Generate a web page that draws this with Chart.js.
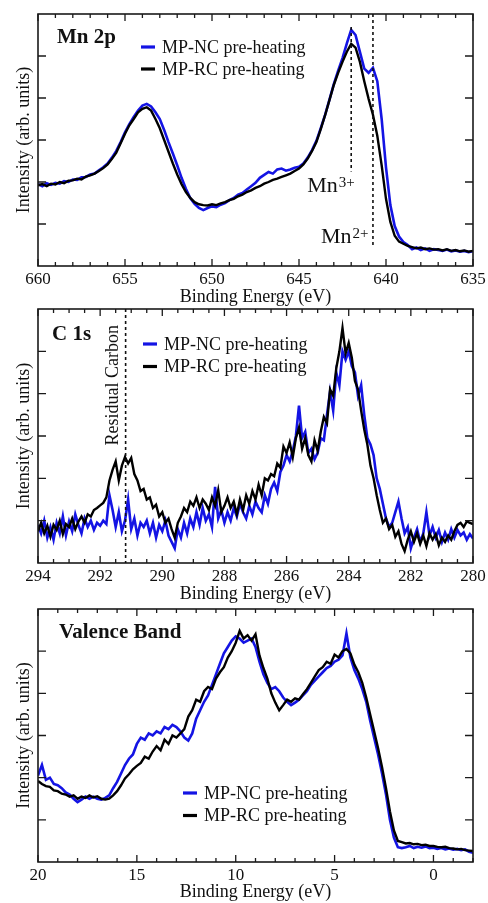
<!DOCTYPE html>
<html>
<head>
<meta charset="utf-8">
<title>XPS spectra - Mn 2p, C 1s, valence band</title>
<script src="https://cdn.jsdelivr.net/npm/chart.js"></script>
<style>
  body { margin: 0; background: #fff; }
  .panel { position: absolute; left: 0; width: 488px; }
</style>
</head>
<body>
<div class="panel" style="top:0;height:308px"><canvas id="mn"></canvas></div>
<div class="panel" style="top:308px;height:297px"><canvas id="c1s"></canvas></div>
<div class="panel" style="top:605px;height:298px"><canvas id="vb"></canvas></div>
<script>
// ---- Mn 2p ----
const mnEnergy = [660,659.75,659.5,659.25,659,658.75,658.5,658.25,658,657.75,
  657.5,657.25,657,656.75,656.5,656.25,656,655.75,655.5,655.25,
  655,654.75,654.5,654.25,654,653.75,653.5,653.25,653,652.75,
  652.5,652.25,652,651.75,651.5,651.25,651,650.75,650.5,650.25,
  650,649.75,649.5,649.25,649,648.75,648.5,648.25,648,647.75,
  647.5,647.25,647,646.75,646.5,646.25,646,645.75,645.5,645.25,
  645,644.75,644.5,644.25,644,643.75,643.5,643.25,643,642.75,
  642.5,642.25,642,641.75,641.5,641.25,641,640.75,640.5,640.25,
  640,639.75,639.5,639.25,639,638.75,638.5,638.25,638,637.75,
  637.5,637.25,637,636.75,636.5,636.25,636,635.75,635.5,635.25,
  635];
const mnNC = [1.95,1.90,1.97,1.93,1.98,1.96,2.02,2.00,2.06,2.05,
  2.11,2.12,2.18,2.20,2.28,2.35,2.44,2.58,2.74,2.95,
  3.18,3.38,3.55,3.70,3.82,3.86,3.80,3.66,3.50,3.24,
  2.95,2.68,2.40,2.10,1.84,1.62,1.48,1.38,1.33,1.38,
  1.42,1.40,1.46,1.50,1.57,1.62,1.70,1.74,1.82,1.90,
  1.98,2.10,2.17,2.24,2.20,2.30,2.32,2.27,2.30,2.34,
  2.36,2.44,2.58,2.76,2.98,3.28,3.60,3.96,4.33,4.65,
  4.95,5.30,5.62,5.50,5.10,4.70,4.60,4.72,4.40,3.50,
  2.35,1.45,0.95,0.70,0.57,0.50,0.40,0.44,0.38,0.42,
  0.36,0.40,0.38,0.36,0.39,0.35,0.37,0.34,0.36,0.33,
  0.35];
const mnRC = [1.92,1.95,1.90,1.96,1.94,2.00,1.97,2.03,2.04,2.08,
  2.06,2.13,2.16,2.20,2.26,2.33,2.42,2.55,2.70,2.92,
  3.15,3.35,3.50,3.66,3.74,3.78,3.70,3.50,3.28,3.00,
  2.72,2.44,2.18,1.95,1.76,1.62,1.52,1.47,1.45,1.44,
  1.47,1.45,1.49,1.52,1.57,1.60,1.66,1.70,1.76,1.80,
  1.86,1.90,1.96,2.00,2.05,2.08,2.12,2.16,2.20,2.26,
  2.32,2.42,2.56,2.74,2.95,3.26,3.59,3.95,4.31,4.60,
  4.86,5.10,5.29,5.20,4.86,4.40,3.98,3.60,3.10,2.40,
  1.60,1.05,0.72,0.58,0.53,0.48,0.45,0.42,0.44,0.40,
  0.42,0.39,0.40,0.37,0.40,0.36,0.38,0.35,0.37,0.34,
  0.36];
const mnTicks = [660, 655, 650, 645, 640, 635];
const mn3Energy = 642.0;
const mn2Energy = 640.75;

// ---- C 1s ----
const cEnergy = [294,293.9,293.8,293.7,293.6,293.5,293.4,293.3,293.2,293.1,
  293,292.9,292.8,292.7,292.6,292.5,292.4,292.3,292.2,292.1,
  292,291.9,291.8,291.7,291.6,291.5,291.4,291.3,291.2,291.1,
  291,290.9,290.8,290.7,290.6,290.5,290.4,290.3,290.2,290.1,
  290,289.9,289.8,289.7,289.6,289.5,289.4,289.3,289.2,289.1,
  289,288.9,288.8,288.7,288.6,288.5,288.4,288.3,288.2,288.1,
  288,287.9,287.8,287.7,287.6,287.5,287.4,287.3,287.2,287.1,
  287,286.9,286.8,286.7,286.6,286.5,286.4,286.3,286.2,286.1,
  286,285.9,285.8,285.7,285.6,285.5,285.4,285.3,285.2,285.1,
  285,284.9,284.8,284.7,284.6,284.5,284.4,284.3,284.2,284.1,
  284,283.9,283.8,283.7,283.6,283.5,283.4,283.3,283.2,283.1,
  283,282.9,282.8,282.7,282.6,282.5,282.4,282.3,282.2,282.1,
  282,281.9,281.8,281.7,281.6,281.5,281.4,281.3,281.2,281.1,
  281,280.9,280.8,280.7,280.6,280.5,280.4,280.3,280.2,280.1,
  280];
const cNC = [0.90,0.70,1.00,0.60,0.85,0.55,0.95,0.70,1.10,0.65,
  0.98,0.75,1.15,0.90,0.70,1.05,0.85,1.00,0.78,0.95,
  0.88,1.00,0.92,1.60,1.25,0.85,1.20,0.75,1.00,1.50,
  0.80,1.05,0.65,0.95,0.85,1.00,0.70,0.95,0.60,0.90,
  0.75,1.00,0.65,0.50,0.35,0.80,0.60,0.95,0.70,1.05,
  0.85,1.20,0.90,1.30,1.00,1.15,0.85,1.80,1.05,1.25,
  0.95,1.20,1.00,1.30,1.10,1.40,1.20,1.05,1.35,1.15,
  1.45,1.30,1.20,1.60,1.40,1.75,1.90,1.70,2.15,2.30,
  2.55,2.40,2.65,3.00,3.72,2.95,3.10,2.60,2.70,2.45,
  2.60,2.95,2.90,3.50,4.05,3.60,4.50,4.20,5.00,4.80,
  5.00,4.65,4.50,3.95,4.20,3.50,2.95,2.80,2.55,2.00,
  1.75,1.40,1.05,0.85,0.95,1.20,1.45,1.05,0.70,0.85,
  0.35,0.60,0.80,0.50,0.70,1.20,0.65,0.85,0.60,0.78,
  0.50,0.72,0.55,0.80,0.60,0.78,0.65,0.72,0.55,0.68,
  0.58];
const cRC = [0.75,0.95,0.70,0.88,0.62,0.90,0.78,1.00,0.68,0.92,
  0.85,1.05,0.80,0.98,1.10,0.95,1.15,1.10,1.25,1.30,
  1.36,1.42,1.55,1.95,2.20,2.40,1.95,2.30,2.50,2.35,
  2.48,2.10,1.95,1.70,1.75,1.50,1.55,1.30,1.38,1.10,
  1.20,0.95,1.05,0.80,0.60,0.95,1.10,1.30,1.20,1.45,
  1.35,1.55,1.30,1.50,1.40,1.25,1.55,1.35,1.72,1.20,
  1.35,1.55,1.30,1.45,1.15,1.50,1.25,1.60,1.40,1.70,
  1.50,1.85,1.60,2.00,1.95,2.10,2.05,2.35,2.25,2.75,
  2.60,2.85,2.50,2.95,3.20,2.70,2.95,2.55,2.40,2.90,
  2.65,3.10,3.45,3.30,4.10,3.95,4.60,5.00,5.55,4.95,
  5.20,4.85,4.30,4.10,3.60,3.15,2.80,2.30,2.00,1.60,
  1.25,0.95,1.05,0.80,0.90,0.62,0.75,0.45,0.28,0.55,
  0.75,0.50,0.70,0.45,0.65,0.40,0.70,0.55,0.68,0.42,
  0.60,0.50,0.65,0.55,0.75,0.90,0.95,0.85,0.98,0.95,
  0.92];
const cTicks = [294, 292, 290, 288, 286, 284, 282, 280];
const residualCarbonEnergy = 291.18;

// ---- Valence band ----
const vbEnergy = [20,19.8,19.6,19.4,19.2,19,18.8,18.6,18.4,18.2,
  18,17.8,17.6,17.4,17.2,17,16.8,16.6,16.4,16.2,
  16,15.8,15.6,15.4,15.2,15,14.8,14.6,14.4,14.2,
  14,13.8,13.6,13.4,13.2,13,12.8,12.6,12.4,12.2,
  12,11.8,11.6,11.4,11.2,11,10.8,10.6,10.4,10.2,
  10,9.8,9.6,9.4,9.2,9,8.8,8.6,8.4,8.2,
  8,7.8,7.6,7.4,7.2,7,6.8,6.6,6.4,6.2,
  6,5.8,5.6,5.4,5.2,5,4.8,4.6,4.4,4.2,
  4,3.8,3.6,3.4,3.2,3,2.8,2.6,2.4,2.2,
  2,1.8,1.6,1.4,1.2,1,0.8,0.6,0.4,0.2,
  0,-0.2,-0.4,-0.6,-0.8,-1,-1.2,-1.4,-1.6,-1.8,
  -2];
const vbNC = [2.05,2.30,1.95,2.00,1.85,1.82,1.75,1.65,1.60,1.50,
  1.42,1.48,1.55,1.50,1.55,1.50,1.48,1.52,1.58,1.75,
  1.90,2.10,2.30,2.45,2.55,2.80,2.95,2.90,3.05,3.00,
  3.10,3.05,3.20,3.15,3.25,3.20,3.10,2.95,2.88,3.05,
  3.40,3.60,3.80,3.95,4.20,4.45,4.70,4.95,5.10,5.25,
  5.35,5.30,5.20,5.25,5.30,5.10,4.75,4.45,4.25,4.10,
  4.15,4.05,3.90,3.80,3.72,3.78,3.85,3.95,4.05,4.20,
  4.30,4.40,4.50,4.60,4.65,4.75,4.80,4.90,5.42,4.85,
  4.55,4.35,4.10,3.80,3.35,2.95,2.55,2.10,1.60,1.00,
  0.58,0.35,0.33,0.35,0.38,0.33,0.36,0.34,0.37,0.33,
  0.34,0.31,0.33,0.30,0.32,0.29,0.31,0.28,0.30,0.24,
  0.22];
const vbRC = [1.92,1.85,1.80,1.78,1.70,1.68,1.62,1.60,1.55,1.58,
  1.50,1.55,1.52,1.58,1.53,1.56,1.50,1.48,1.50,1.58,
  1.68,1.82,1.98,2.08,2.20,2.28,2.35,2.50,2.45,2.62,
  2.75,2.65,2.90,2.80,3.00,2.95,3.05,3.15,3.45,3.60,
  3.85,3.80,4.05,4.15,4.10,4.35,4.50,4.62,4.85,5.00,
  5.20,5.48,5.30,5.38,5.25,5.40,4.90,4.60,4.35,4.00,
  3.78,3.60,3.72,3.85,3.80,3.88,3.85,3.98,4.10,4.25,
  4.40,4.55,4.62,4.75,4.70,4.92,4.85,5.00,5.05,4.95,
  4.68,4.50,4.25,3.90,3.50,3.10,2.70,2.25,1.75,1.20,
  0.75,0.50,0.47,0.44,0.45,0.42,0.43,0.40,0.41,0.38,
  0.38,0.36,0.35,0.36,0.33,0.32,0.30,0.31,0.28,0.27,
  0.26];
const vbTicks = [20, 15, 10, 5, 0];

const yMajor = [1, 2, 3, 4, 5];
const seriesNames = ['MP-NC pre-heating', 'MP-RC pre-heating'];

const BLUE = 'rgb(20,20,228)';
const INK = '#111';
const SERIF = '"Liberation Serif", "DejaVu Serif", serif';

// box with inward ticks on all four sides
const framePlugin = {
  id: 'frame',
  afterDatasetsDraw(chart, args, opts) {
    const {ctx, chartArea: a, scales: {x, y}} = chart;
    ctx.save();
    ctx.strokeStyle = '#1a1a1a';
    ctx.lineWidth = 1.3;
    ctx.beginPath();
    for (let v = opts.from; v <= opts.to + 1e-9; v += opts.minorStep) {
      const px = x.getPixelForValue(v);
      const len = opts.major.some(m => Math.abs(m - v) < 1e-6) ? 7 : 4;
      ctx.moveTo(px, a.bottom); ctx.lineTo(px, a.bottom - len);
      ctx.moveTo(px, a.top); ctx.lineTo(px, a.top + len);
    }
    yMajor.forEach(v => {
      const py = y.getPixelForValue(v);
      ctx.moveTo(a.left, py); ctx.lineTo(a.left + 8, py);
      ctx.moveTo(a.right, py); ctx.lineTo(a.right - 8, py);
    });
    ctx.stroke();
    ctx.lineWidth = 1.6;
    ctx.strokeRect(a.left, a.top, a.right - a.left, a.bottom - a.top);
    ctx.restore();
  }
};

// panel name, dotted markers, labels and the in-plot legend
const notesPlugin = {
  id: 'notes',
  afterDatasetsDraw(chart, args, opts) {
    const {ctx, chartArea: a, scales: {x, y}} = chart;
    ctx.save();
    ctx.fillStyle = INK;

    ctx.font = 'bold 21px ' + SERIF;
    ctx.textBaseline = 'alphabetic';
    ctx.fillText(opts.name, a.left + opts.nameDx, a.top + opts.nameDy);

    ctx.strokeStyle = INK;
    ctx.lineWidth = 1.6;
    ctx.setLineDash([3, 3]);
    (opts.markers || []).forEach(m => {
      const px = x.getPixelForValue(m.energy);
      ctx.beginPath();
      ctx.moveTo(px, y.getPixelForValue(m.top));
      ctx.lineTo(px, y.getPixelForValue(m.bottom));
      ctx.stroke();
    });
    ctx.setLineDash([]);

    (opts.ions || []).forEach(t => {
      const px = x.getPixelForValue(t.energy) + t.dx;
      const py = y.getPixelForValue(t.level);
      ctx.font = '22px ' + SERIF;
      ctx.fillText('Mn', px, py);
      const w = ctx.measureText('Mn').width;
      ctx.font = '15px ' + SERIF;
      ctx.fillText(t.charge, px + w + 1, py - 5);
    });

    (opts.vertical || []).forEach(t => {
      ctx.save();
      ctx.translate(x.getPixelForValue(t.energy) + t.dx, y.getPixelForValue(t.level));
      ctx.rotate(-Math.PI / 2);
      ctx.font = '18px ' + SERIF;
      ctx.textAlign = 'center';
      ctx.textBaseline = 'middle';
      ctx.fillText(t.text, 0, 0);
      ctx.restore();
    });

    const lg = opts.legend;
    ctx.font = '18px ' + SERIF;
    ctx.textBaseline = 'middle';
    chart.data.datasets.forEach((ds, i) => {
      const ly = lg.y + i * lg.gap;
      ctx.strokeStyle = ds.borderColor;
      ctx.lineWidth = 3.2;
      ctx.beginPath();
      ctx.moveTo(lg.x, ly);
      ctx.lineTo(lg.x + 14, ly);
      ctx.stroke();
      ctx.fillStyle = INK;
      ctx.fillText(ds.label, lg.x + 21, ly + 1);
    });
    ctx.restore();
  }
};

function spectrum(energy, values) {
  return energy.map((e, i) => ({x: e, y: values[i]}));
}

function makePanel(id, p) {
  return new Chart(document.getElementById(id), {
    type: 'line',
    data: {
      datasets: [
        {label: seriesNames[0], data: spectrum(p.energy, p.nc), borderColor: BLUE,
         borderWidth: 2.6, pointRadius: 0, order: 1},
        {label: seriesNames[1], data: spectrum(p.energy, p.rc), borderColor: '#000',
         borderWidth: 2.4, pointRadius: 0, order: 0}
      ]
    },
    options: {
      responsive: true,
      maintainAspectRatio: false,
      animation: false,
      events: [],
      layout: {padding: {top: p.top, right: 15, left: 0, bottom: 0}},
      scales: {
        x: {
          type: 'linear', reverse: true, min: p.min, max: p.max,
          grid: {display: false, drawTicks: false},
          border: {display: false},
          afterBuildTicks: s => { s.ticks = p.ticks.map(v => ({value: v})); },
          afterFit: s => { s.height = p.axisH; s.paddingLeft = 0; s.paddingRight = 0; },
          ticks: {color: INK, font: {family: SERIF, size: 17}, padding: 3,
                  maxRotation: 0, autoSkip: false},
          title: {display: true, text: 'Binding Energy (eV)', color: INK,
                  font: {family: SERIF, size: 18}, padding: 0}
        },
        y: {
          min: 0, max: 6,
          grid: {display: false, drawTicks: false},
          border: {display: false},
          ticks: {display: false},
          afterFit: s => { s.width = 38; s.paddingTop = 0; s.paddingBottom = 0; },
          title: {display: true, text: 'Intensity (arb. units)', color: INK,
                  font: {family: SERIF, size: 18}, padding: {top: 13, bottom: 0}}
        }
      },
      plugins: {
        legend: {display: false},
        tooltip: {enabled: false},
        frame: {from: p.min, to: p.max, minorStep: p.minorStep, major: p.ticks},
        notes: p.notes
      }
    },
    plugins: [framePlugin, notesPlugin]
  });
}

makePanel('mn', {
  energy: mnEnergy, nc: mnNC, rc: mnRC, ticks: mnTicks,
  min: 635, max: 660, minorStep: 1, top: 14, axisH: 42,
  notes: {
    name: 'Mn 2p', nameDx: 19, nameDy: 29,
    legend: {x: 141, y: 47, gap: 22},
    markers: [
      {energy: mn3Energy, top: 5.69, bottom: 2.25},
      {energy: mn2Energy, top: 6, bottom: 0.5}
    ],
    ions: [
      {energy: mn3Energy, dx: -44, level: 1.77, charge: '3+'},
      {energy: mn2Energy, dx: -52, level: 0.55, charge: '2+'}
    ]
  }
});

makePanel('c1s', {
  energy: cEnergy, nc: cNC, rc: cRC, ticks: cTicks,
  min: 280, max: 294, minorStep: 0.5, top: 1, axisH: 42,
  notes: {
    name: 'C 1s', nameDx: 14, nameDy: 31,
    legend: {x: 143, y: 36, gap: 22.5},
    markers: [{energy: residualCarbonEnergy, top: 6, bottom: 0}],
    vertical: [{energy: residualCarbonEnergy, dx: -12, level: 4.2, text: 'Residual Carbon'}]
  }
});

makePanel('vb', {
  energy: vbEnergy, nc: vbNC, rc: vbRC, ticks: vbTicks,
  min: -2, max: 20, minorStep: 1, top: 4, axisH: 41,
  notes: {
    name: 'Valence Band', nameDx: 21, nameDy: 29,
    legend: {x: 183, y: 188, gap: 22.5}
  }
});
</script>
</body>
</html>
